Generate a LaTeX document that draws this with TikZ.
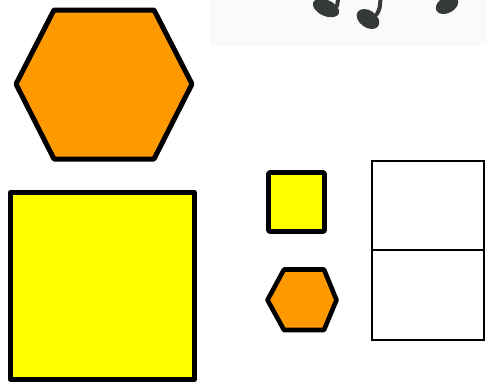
\documentclass[tikz,border=0pt]{standalone}
\usetikzlibrary{shapes.geometric}
\definecolor{hexorange}{HTML}{FF9900}
\definecolor{sqyellow}{HTML}{FFFF00}
\definecolor{notegray}{HTML}{363A36}
\definecolor{bgfaint}{HTML}{FAFAFC}
\tikzset{
  thickshape/.style={draw=black, line width=5pt, line join=round},
  midshape/.style={draw=black, line width=4.6pt, line join=round},
  thinbox/.style={draw=black, line width=2pt},
  notehead/.style={fill=notegray, draw=none},
  notestem/.style={draw=notegray, line width=4pt, line cap=round}
}
\begin{document}
\begin{tikzpicture}[x=1pt,y=-1pt]
\useasboundingbox (0,0) rectangle (487,383);
% faint background behind the notes
\fill[bgfaint] (210,0) rectangle (487,46);
% music notes
\fill[notehead, rotate around={-24:(326,8)}] (326,8) ellipse [x radius=14, y radius=8];
\draw[notestem] (337,6) -- (338.5,-3);
\fill[notehead, rotate around={-35:(368,19)}] (368,19) ellipse [x radius=12.5, y radius=8.5];
\draw[notestem] (377,14) .. controls (380,8) .. (380.5,-3);
\fill[notehead, rotate around={28:(447,5)}] (447,5) ellipse [x radius=12, y radius=8];
% big hexagon
\draw[thickshape, fill=hexorange] (16,84) -- (54,10) -- (154,10) -- (192,84) -- (154,159) -- (54,159) -- cycle;
% big square
\draw[thickshape, fill=sqyellow] (10.5,192.5) rectangle (194.5,379.5);
% small square
\draw[midshape, fill=sqyellow, rounded corners=1pt] (268.5,172.5) rectangle (324.5,231.5);
% small hexagon
\draw[midshape, fill=hexorange] (267.5,300) -- (284,269.5) -- (324,269.5) -- (336.5,300) -- (324,330) -- (284,330) -- cycle;
% two stacked boxes
\draw[thinbox] (372,161) rectangle (484,340);
\draw[thinbox] (372,249.5) -- (484,249.5);
\end{tikzpicture}
\end{document}
